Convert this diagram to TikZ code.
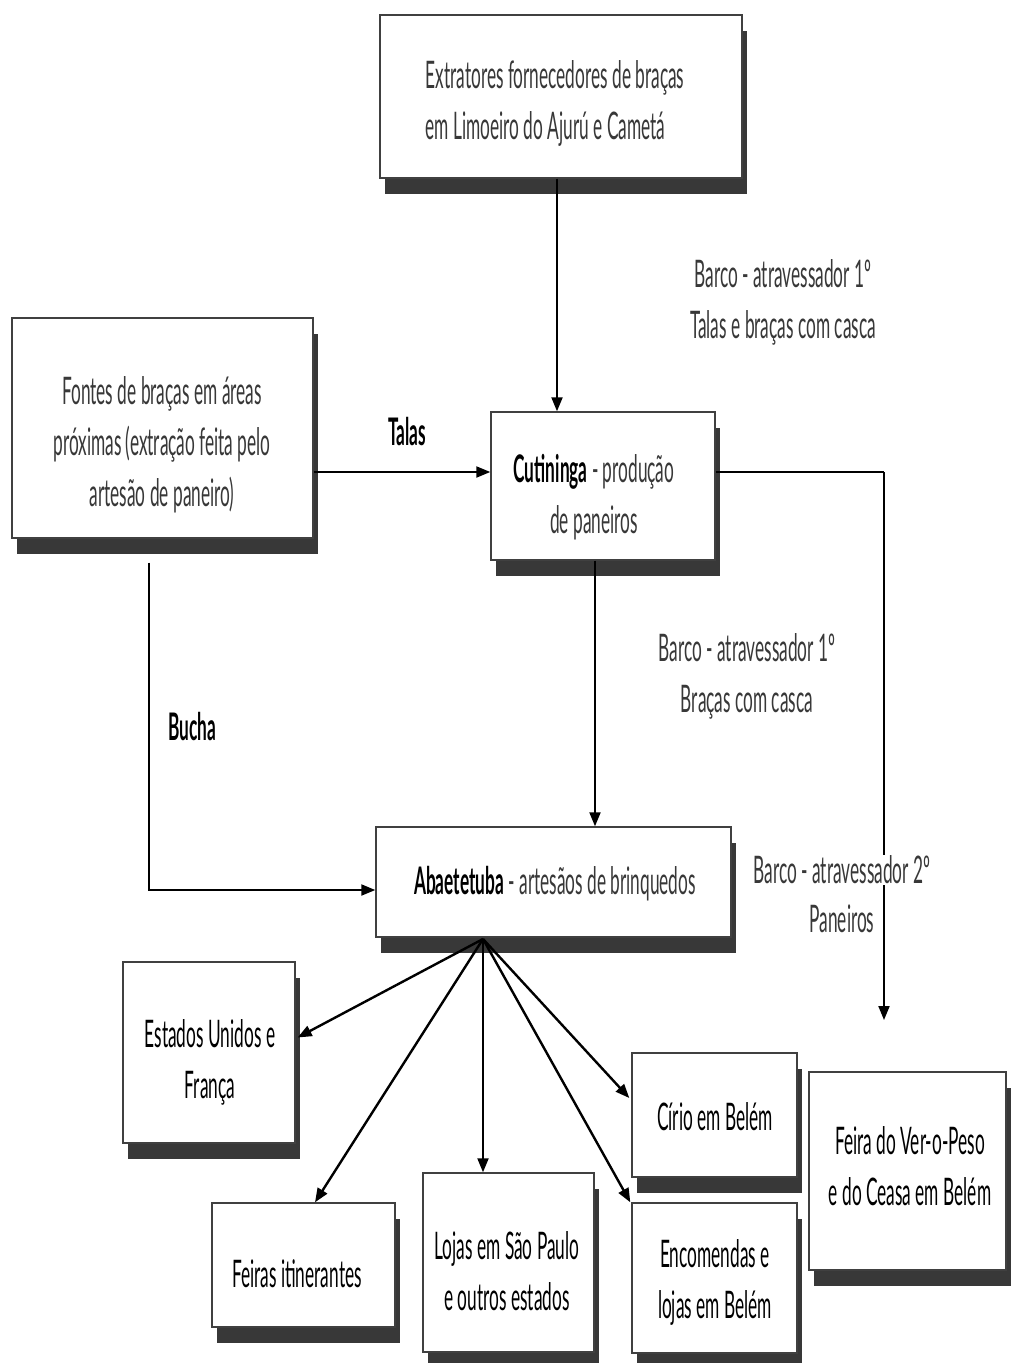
\documentclass[tikz,border=0pt]{standalone}
\usepackage{fontspec}
\setmainfont{Lato}[FakeStretch=0.455]
\usetikzlibrary{arrows.meta,calc,shadows}
\begin{document}
\begin{tikzpicture}[x=1pt,y=-1pt,
  box/.style={draw=black!75, line width=1.4pt, fill=white, inner sep=0pt,
    drop shadow={shadow xshift=5pt, shadow yshift=-16pt, fill=black!78, opacity=1}},
  txt/.style={align=center, inner sep=0pt, text=black!78, font=\fontsize{38}{51}\selectfont},
  conn/.style={line width=2pt, draw=black},
  arr/.style={conn, -{Triangle[length=14pt,width=11pt]}},
  fanarr/.style={arr, line width=2.4pt},
  lbl/.style={txt, fill=white, inner sep=1pt}
]
\useasboundingbox (0,0) rectangle (1010,1363);
\fill[white] (0,0) rectangle (1010,1363);

% boxes
\node[box, minimum width=362, minimum height=163] (ext) at (561,96.5) {};
\node[box, minimum width=301, minimum height=220] (fon) at (162.5,428) {};
\node[box, minimum width=224, minimum height=148] (cut) at (603,486) {};
\node[box, minimum width=355, minimum height=110] (aba) at (553.5,882) {};
\node[box, minimum width=172, minimum height=181] (est) at (209,1052.5) {};
\node[box, minimum width=183, minimum height=124] (fei) at (303.5,1265) {};
\node[box, minimum width=171, minimum height=179] (loj) at (508.5,1262.5) {};
\node[box, minimum width=165, minimum height=124] (cir) at (714.5,1115) {};
\node[box, minimum width=165, minimum height=150] (enc) at (714.5,1278) {};
\node[box, minimum width=197, minimum height=198] (fvp) at (907.5,1171) {};

% box texts
\node[txt, align=left] (ext-t) at (555,103) {Extratores fornecedores de braças\\em Limoeiro do Ajurú e Cametá};
\node[txt] (fon-t) at (162,445) {Fontes de braças em áreas\\próximas (extração feita pelo\\artesão de paneiro)};
\node[txt] (cut-t) at (594,497) {\textbf{\color{black}Cutininga} - produção\\de paneiros};
\node[txt] (aba-t) at (555,884) {\textbf{\color{black}Abaetetuba} - artesãos de brinquedos};
\node[txt, text=black] (est-t) at (210,1062) {Estados Unidos e\\França};
\node[txt, text=black] (fei-t) at (297,1274) {Feiras itinerantes};
\node[txt, text=black] (loj-t) at (507,1271) {Lojas em São Paulo\\e outros estados};
\node[txt, text=black] (cir-t) at (715,1117) {Círio em Belém};
\node[txt, text=black] (enc-t) at (715,1282) {Encomendas e\\lojas em Belém};
\node[txt, text=black] (fvp-t) at (910,1166) {Feira do Ver-o-Peso\\e do Ceasa em Belém};

% helper coordinates
\coordinate (x557) at (557,0);
\coordinate (y472) at (0,472);
\coordinate (x595) at (595,0);
\coordinate (x149) at (149,0);
\coordinate (y890) at (0,890);
\coordinate (turn) at (884,472);
\coordinate (fvpend) at (884,1020);
\coordinate (fan) at (483,939);

% connectors
\draw[arr] (ext.south -| x557) -- (cut.north -| x557);
\draw[arr] (fon.east |- y472) -- (cut.west |- y472);
\draw[conn] (cut.east |- y472) -- (turn);
\draw[arr] (turn) -- (fvpend);
\draw[arr] (cut.south -| x595) -- (aba.north -| x595);
\draw[arr] ($(fon.south -| x149)+(0,24)$) -- (x149 |- y890) -- (aba.west |- y890);

\draw[fanarr] (fan) -- ($(est.east)+(2,-15)$);
\draw[fanarr] (fan) -- ($(fei.north)+(11.5,0)$);
\draw[arr] (fan) -- (loj.north -| fan);
\draw[fanarr] (fan) -- ($(cir.west)+(-2,-17)$);
\draw[fanarr] (fan) -- ($(enc.north west)+(-1,0)$);

% connector labels
\node[txt, text=black] (talas) at (407,432) {\textbf{Talas}};
\node[txt, text=black] (bucha) at (192,727) {\textbf{Bucha}};
\node[txt] (l1) at (783,302) {Barco - atravessador 1º\\Talas e braças com casca};
\node[txt] (l2) at (747,676) {Barco - atravessador 1º\\Braças com casca};
\node[lbl] (l3a) at (842,870) {Barco - atravessador 2º};
\node[txt] (l3b) at (842,919) {Paneiros};
\end{tikzpicture}
\end{document}
